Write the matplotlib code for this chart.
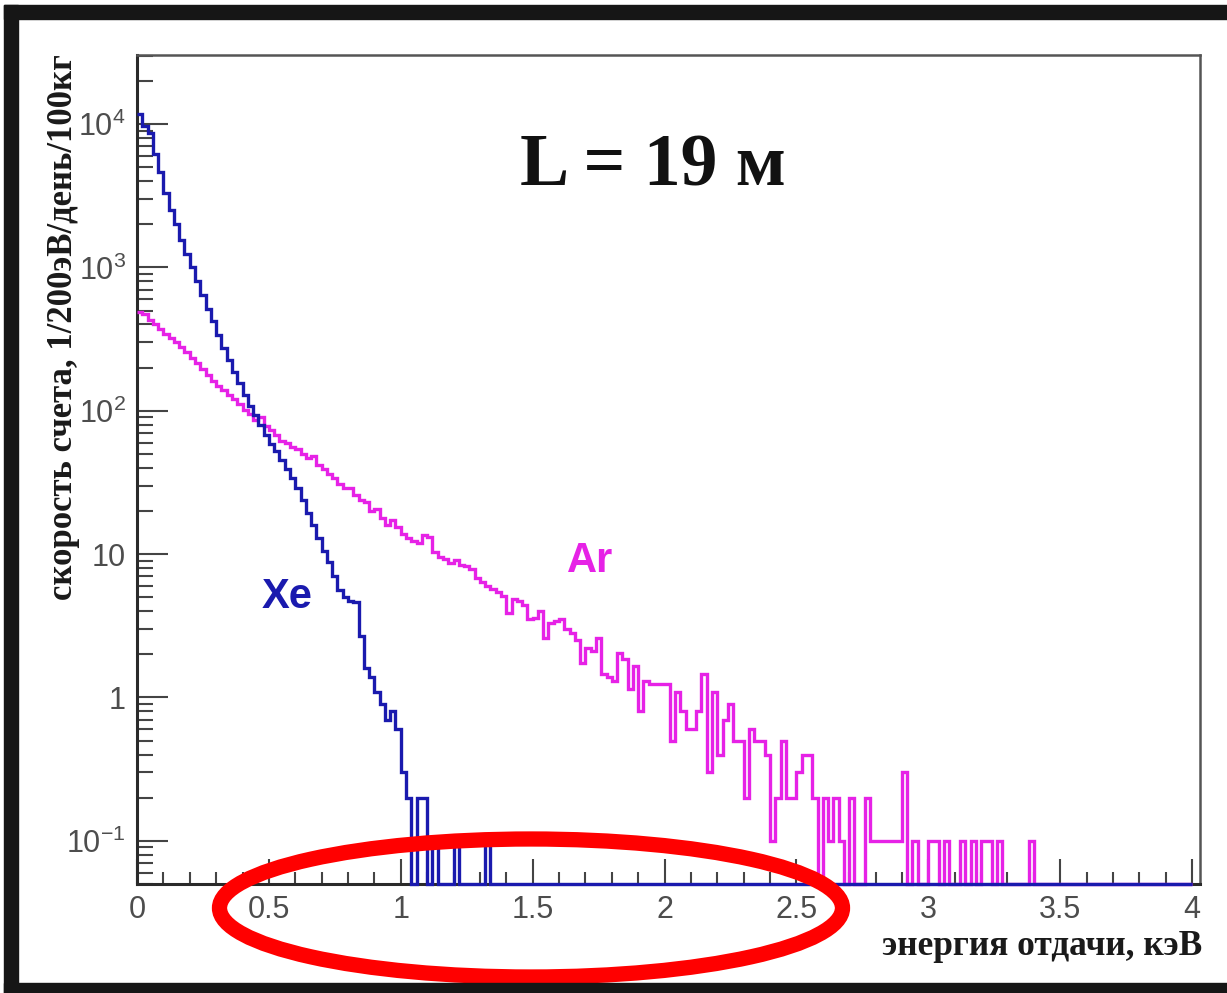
import numpy as np
import matplotlib.pyplot as plt
from matplotlib.patches import Ellipse, Rectangle
from matplotlib.ticker import FixedLocator, FixedFormatter, LogLocator, MultipleLocator, NullFormatter

plt.rcParams['font.family'] = ['Liberation Sans', 'DejaVu Sans']
plt.rcParams['mathtext.fontset'] = 'custom'
plt.rcParams['mathtext.rm'] = 'Liberation Sans'

# histogram bins: 0..4 keV, 20 eV wide
bin_width = 0.02
n_bins = 200

# Xe counting rate per bin (bins after the last listed one are empty)
xe_rate = [11800, 9700, 8600, 6200, 4600, 3300, 2500, 2000, 1550, 1230,
           1000, 800, 640, 510, 420, 340, 275, 225, 185, 155,
           128, 108, 93, 80, 68, 59, 52, 45, 39, 34,
           29, 24, 19.5, 16, 13, 10.5, 8.8, 7.0, 5.6, 5.0,
           4.7, 4.6, 2.7, 1.6, 1.4, 1.1, 0.9, 0.7, 0.8, 0.6,
           0.3, 0.2, 0, 0.2, 0.2, 0, 0.1, 0, 0, 0,
           0.1, 0, 0, 0, 0, 0, 0.1]

# Ar counting rate per bin
ar_rate = [490, 470, 430, 400, 370, 345, 320, 300, 280, 255,
           235, 215, 195, 178, 160, 150, 140, 128, 120, 112,
           102, 95, 86, 90, 78, 73, 68, 62, 60, 56,
           54, 50, 47, 48, 42, 39, 36, 34, 31, 29,
           29, 26, 24, 23, 20, 20.5, 18, 16, 17.2, 15.5,
           13.8, 13.0, 12.4, 12.0, 13.5, 13.2, 10.3, 9.6, 9.2, 8.7,
           9.1, 8.4, 8.2, 7.9, 6.8, 6.4, 6.0, 5.7, 5.4, 5.1,
           3.9, 4.9, 4.7, 4.4, 3.5, 3.6, 4.0, 2.6, 3.3, 3.4,
           3.5, 3.0, 2.8, 2.5, 1.75, 2.2, 2.1, 2.6, 1.45, 1.4,
           1.3, 2.05, 1.85, 1.15, 1.65, 0.8, 1.3, 1.25, 1.25, 1.25,
           1.25, 0.5, 1.1, 0.8, 0.6, 0.6, 0.8, 1.45, 0.3, 1.1,
           0.4, 0.7, 0.9, 0.5, 0.5, 0.2, 0.6, 0.5, 0.5, 0.4,
           0.1, 0.2, 0.5, 0.2, 0.2, 0.3, 0.4, 0.4, 0.2, 0,
           0.2, 0.1, 0.2, 0.1, 0, 0.2, 0, 0, 0.2, 0.1,
           0.1, 0.1, 0.1, 0.1, 0.1, 0.3, 0, 0.1, 0, 0,
           0.1, 0.1, 0, 0.1, 0, 0, 0.1, 0, 0.1, 0,
           0.1, 0.1, 0, 0.1, 0, 0, 0, 0, 0, 0.1]

x_ticks = [0, 0.5, 1, 1.5, 2, 2.5, 3, 3.5, 4]
x_tick_labels = ['0', '0.5', '1', '1.5', '2', '2.5', '3', '3.5', '4']
y_ticks = [0.1, 1, 10, 100, 1000, 10000]
y_tick_labels = [r'$\mathregular{10^{-1}}$', '1', '10', r'$\mathregular{10^{2}}$',
                 r'$\mathregular{10^{3}}$', r'$\mathregular{10^{4}}$']

xe_color = '#1a1aae'
ar_color = '#e622e6'
y_min, y_max = 0.05, 3.03e4

edges = np.arange(n_bins + 1) * bin_width
xe = np.zeros(n_bins)
xe[:len(xe_rate)] = xe_rate
ar = np.zeros(n_bins)
ar[:len(ar_rate)] = ar_rate

W, H = 1227, 993
fig = plt.figure(figsize=(W / 100, H / 100), dpi=100)
ax = fig.add_axes([137 / W, 1 - 884 / H, (1200 - 137) / W, (884 - 55) / H])
ax.set_yscale('log')

# empty bins are drawn on the bottom of the frame, as ROOT does
ax.stairs(np.where(ar > 0, ar, y_min), edges, baseline=None, color=ar_color,
          lw=2.4, clip_on=False, zorder=3)
ax.stairs(np.where(xe > 0, xe, y_min), edges, baseline=None, color=xe_color,
          lw=2.4, clip_on=False, zorder=4)

ax.set_xlim(0, 4.03)
ax.set_ylim(y_min, y_max)

ax.xaxis.set_major_locator(FixedLocator(x_ticks))
ax.xaxis.set_major_formatter(FixedFormatter(x_tick_labels))
ax.xaxis.set_minor_locator(MultipleLocator(0.1))
ax.yaxis.set_major_locator(FixedLocator(y_ticks))
ax.yaxis.set_major_formatter(FixedFormatter(y_tick_labels))
ax.yaxis.set_minor_locator(LogLocator(base=10, subs=range(2, 10)))
ax.yaxis.set_minor_formatter(NullFormatter())

ax.tick_params(which='both', direction='in', color='#444444', width=1.5,
               labelsize=22, labelcolor='#4d4d4d')
ax.tick_params(axis='x', which='major', length=18, pad=8)
ax.tick_params(axis='x', which='minor', length=9)
ax.tick_params(axis='y', which='major', length=22, pad=8)
ax.tick_params(axis='y', which='minor', length=11.5)

for side in ['left', 'bottom']:
    ax.spines[side].set_color('#2a2a2a')
    ax.spines[side].set_linewidth(2.2)
for side in ['top', 'right']:
    ax.spines[side].set_color('#555555')
    ax.spines[side].set_linewidth(1.8)

ax.text(0.569, 5.0, 'Xe', color=xe_color, fontsize=30, fontweight='bold',
        ha='center', va='center')
ax.text(1.717, 9.0, 'Ar', color=ar_color, fontsize=30, fontweight='bold',
        ha='center', va='center')

fig.text(653 / W, 1 - 185 / H, 'L = 19 м', family='Liberation Serif',
         weight='bold', fontsize=53, color='#111111', ha='center', va='baseline')
fig.text(64 / W, 1 - 327 / H, 'скорость счета, 1/200эВ/день/100кг',
         family='Liberation Serif', weight='bold', fontsize=25, color='#1a1a1a',
         rotation=90, ha='center', va='center')
fig.text(1202 / W, 1 - 955 / H, 'энергия отдачи, кэВ', family='Liberation Serif',
         weight='bold', fontsize=25.5, color='#1a1a1a', ha='right', va='baseline')

# red highlight ellipse
fig.add_artist(Ellipse((531 / W, 1 - 908 / H), 623 / W, 138 / H,
                       transform=fig.transFigure, fill=False,
                       edgecolor='#ff0000', lw=11, zorder=10))

# dark frame around the picture
frame_color = '#161616'
fig.add_artist(Rectangle((4 / W, 1 - 19 / H), 1, 14 / H, transform=fig.transFigure,
                         color=frame_color, zorder=11))
fig.add_artist(Rectangle((4 / W, 0), 14 / W, 1 - 5 / H, transform=fig.transFigure,
                         color=frame_color, zorder=11))
fig.add_artist(Rectangle((4 / W, 0), 1, 10 / H, transform=fig.transFigure,
                         color=frame_color, zorder=11))

fig.savefig('out.png', dpi=100)
